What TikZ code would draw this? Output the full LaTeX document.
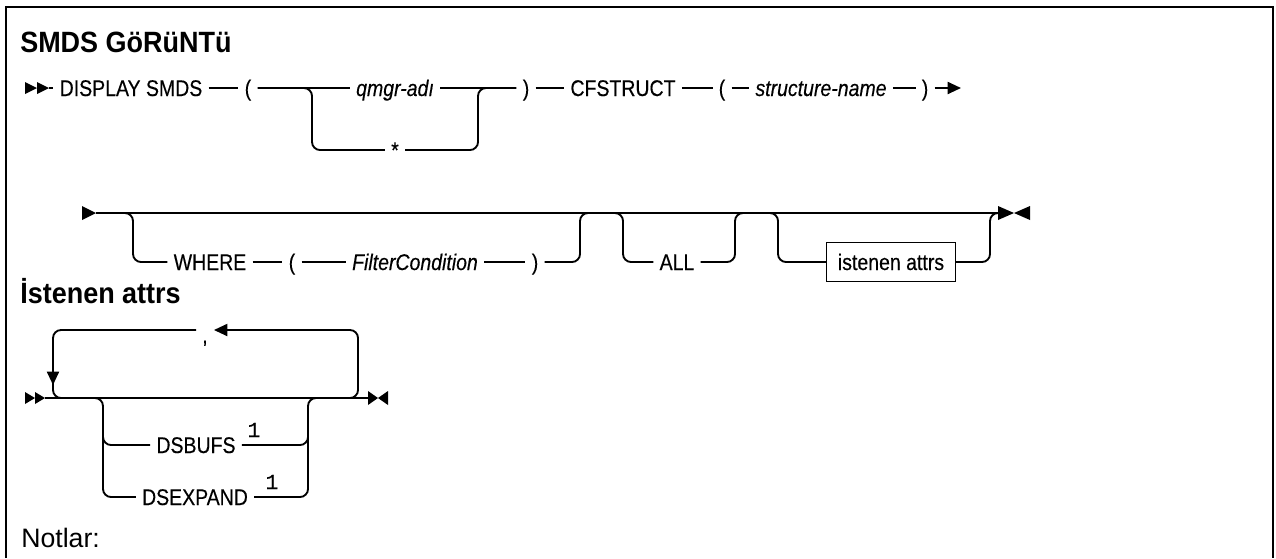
\documentclass[tikz,border=0pt]{standalone}
\usepackage{fontspec}
\setmainfont{Liberation Sans}[FakeStretch=0.92]
\newfontfamily\railfont{Liberation Sans}[FakeStretch=0.86, FakeBold=0.3]
\newfontfamily\notefont{Liberation Sans}
\newfontfamily\supfont{Liberation Mono}[FakeBold=0.5]
\usetikzlibrary{arrows.meta, positioning}
\tikzset{
    rail/.style={line width=1.4pt, rounded corners=6pt},
    kw/.style={font=\railfont\fontsize{17}{20}\selectfont, inner xsep=4.5pt, inner ysep=0pt,
        text height=12pt, text depth=0pt},
    var/.style={kw, font=\railfont\fontsize{17}{20}\selectfont\itshape},
    attrbox/.style={kw, draw, line width=1pt, inner xsep=8.5pt, minimum height=29pt},
    heading/.style={font=\fontsize{22}{26}\selectfont\bfseries, anchor=west, inner sep=0pt},
    supone/.style={font=\supfont\fontsize{16}{18}\selectfont, inner sep=0pt},
    endtip/.style={-{Triangle[length=10pt, width=9pt]}}
}

\begin{document}
\begin{tikzpicture}[x=0.75pt, y=-0.75pt]
    \useasboundingbox (0,0) rectangle (1276,558);

    % Frame
    \draw[line width=1.5pt] (6,558) -- (6,7) -- (1273,7) -- (1273,558);

    % Headings
    \node[heading] (title) at (20,42) {SMDS GöRüNTü};
    \node[heading] (subtitle) at (20,291) {İstenen attrs};
    \node[font=\notefont\fontsize{20}{24}\selectfont, anchor=west, inner sep=0pt]
        (notes) at (21,538) {Notlar:};

    % Row 1
    \foreach \x in {25,37} {
        \fill (\x,82) -- (\x+12,88) -- (\x,94) -- cycle;
    }
    \coordinate (r1s) at (49,88);
    \node[kw] (disp) at (131,88) {DISPLAY SMDS};
    \node[kw] (lpa) at (248,88) {(};
    \node[var] (qmgr) at (395,88) {qmgr-adı};
    \node[kw] (star) at (395,150) {*};
    \node[kw] (rpa) at (526,88) {)};
    \node[kw] (cfs) at (623,88) {CFSTRUCT};
    \node[kw] (lpb) at (722,88) {(};
    \node[var] (sname) at (821,88) {structure-name};
    \node[kw] (rpb) at (925,88) {)};
    \coordinate (r1e) at (961,88);

    \draw[rail] (r1s) -- (disp) -- (lpa) -- (qmgr) -- (rpa) -- (cfs)
        -- (lpb) -- (sname) -- (rpb);
    \draw[rail, endtip] (rpb) -- (r1e);
    \draw[rail] (lpa.east) -- (312,88) -- (312,150) -- (star.west);
    \draw[rail] (star.east) -- (478,150) -- (478,88) -- (rpa.west);

    % Row 2
    \fill (82,206) -- (96,213) -- (82,220) -- cycle;
    \coordinate (r2s) at (96,213);
    \coordinate (r2e) at (998,213);
    \node[kw] (where) at (210,262) {WHERE};
    \node[kw] (lpc) at (292,262) {(};
    \node[var] (filt) at (415,262) {FilterCondition};
    \node[kw] (rpc) at (535,262) {)};
    \node[kw] (all) at (677,262) {ALL};
    \node[attrbox] (attrs) at (891,262) {istenen attrs};

    \draw[rail] (r2s) -- (r2e);
    \draw[rail] (120,213) -- (133,213) -- (133,262) -- (where.west);
    \draw[rail] (where) -- (lpc) -- (filt) -- (rpc);
    \draw[rail] (rpc.east) -- (580,262) -- (580,213) -- (593,213);
    \draw[rail] (610,213) -- (623,213) -- (623,262) -- (all.west);
    \draw[rail] (all.east) -- (735,262) -- (735,213) -- (748,213);
    \draw[rail] (765,213) -- (778,213) -- (778,262) -- (attrs.west);
    \draw[rail] (attrs.east) -- (990,262) -- (990,213) -- (r2e);
    \fill (998,206) -- (1014,213) -- (998,220) -- cycle;
    \fill (1030,206) -- (1014,213) -- (1030,220) -- cycle;

    % Istenen attrs
    \foreach \x in {25,35} {
        \fill (\x,392) -- (\x+10,398) -- (\x,404) -- cycle;
    }
    \coordinate (r3s) at (45,398);
    \coordinate (r3e) at (368,398);
    \node[kw] (comma) at (205,335) {,};
    \node[kw] (dsb) at (196,445) {DSBUFS};
    \node[supone] (supa) at (254,430) {1};
    \node[kw] (dse) at (195,497) {DSEXPAND};
    \node[supone] (supb) at (272,482) {1};

    \draw[rail] (r3s) -- (r3e);
    % repeat loop
    \draw[rail, endtip] (345,398) -- (358,398) -- (358,330) -- ([yshift=3.75pt]comma.east);
    \draw[rail, endtip] ([yshift=3.75pt]comma.west) -- (53,330) -- (53,385);
    \draw[rail] (53,378) -- (53,398) -- (68,398);
    % choices
    \draw[rail] (90,398) -- (103,398) -- (103,497) -- (dse.west);
    \draw[rail] (103,432) -- (103,445) -- (dsb.west);
    \draw[rail] (dsb.east) -- (308,445) -- (308,432);
    \draw[rail] (dse.east) -- (308,497) -- (308,398) -- (321,398);
    \fill (368,391) -- (378,398) -- (368,405) -- cycle;
    \fill (388,391) -- (378,398) -- (388,405) -- cycle;
\end{tikzpicture}
\end{document}
